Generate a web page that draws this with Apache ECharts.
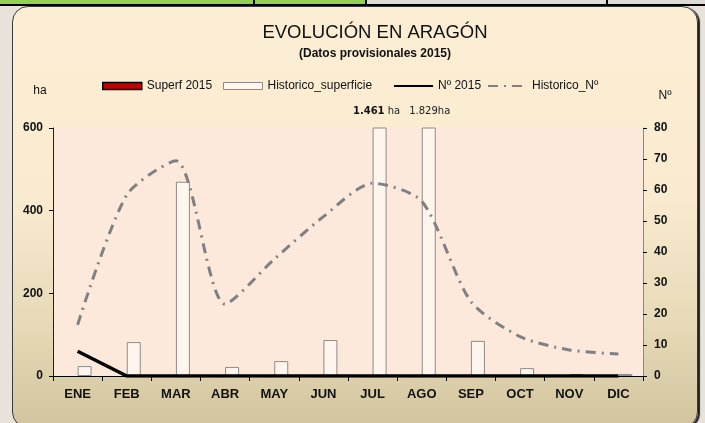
<!DOCTYPE html>
<html><head><meta charset="utf-8">
<script src="https://cdn.jsdelivr.net/npm/echarts@6/dist/echarts.min.js"></script>
<style>
html,body{margin:0;padding:0;width:705px;height:423px;overflow:hidden;background:#E8E2DA;}
.abs{position:absolute;}
#green{left:0;top:0;width:366px;height:4px;background:#92D050;}
#gray{left:366px;top:0;width:339px;height:4px;background:#DEDAD6;}
#hline{left:0;top:4px;width:705px;height:2px;background:#000;}
.v{top:0;width:2px;height:5px;background:#000;}
#panel{left:12px;top:6px;width:684px;height:420px;border-radius:16px;border:1.5px solid #3a3a3a;
 background:linear-gradient(to bottom,#FCEED4 0%,#FAEBD0 45%,#E6DAB8 75%,#D2C49E 100%);
 box-shadow:2px 1px 1px #222;}
#chart{left:0;top:0;width:705px;height:423px;}
</style></head>
<body>
<div class="abs" id="green"></div><div class="abs" id="gray"></div><div class="abs" id="hline"></div>
<div class="abs v" style="left:253px"></div><div class="abs v" style="left:365px"></div><div class="abs v" style="left:606px"></div>
<div class="abs" id="panel"></div>
<div class="abs" id="chart"></div>
<script>
const categories = ['ENE','FEB','MAR','ABR','MAY','JUN','JUL','AGO','SEP','OCT','NOV','DIC'];
const superf2015 = [0,0,0,0,0,0,0,0,0,0,0,0];
const historicoSuperficie = [24,82,470,22,36,87,1461,1829,85,19,5,5];
const n2015 = [8,0,0,0,0,0,0,0,0,0,0,0];
const historicoN = [16.5,58.4,69.4,23.2,37.7,51.4,62.2,56.4,24,12.7,8.4,7.1];
const leftAxisTicks = {min:0, max:600, interval:200};
const rightAxisTicks = {min:0, max:80, interval:10};
const seriesNames = ['Superf 2015','Historico_superficie','Nº 2015','Historico_Nº'];
const overflowLabels = [{cat:'JUL', num:'1.461', unit:' ha', bold:true},{cat:'AGO', num:'1.829', unit:'ha', bold:false}];

const FONT = 'Liberation Sans, Arial, sans-serif';
const legendLefts = [97,218,388,482];
const hidden = {color:'rgba(0,0,0,0)',borderColor:'rgba(0,0,0,0)',borderWidth:0};
const legendItems = [
  {name:seriesNames[0], icon:'rect', itemStyle:{color:'#C00000',borderColor:'#000',borderWidth:1.5}},
  {name:seriesNames[1], icon:'rect', itemStyle:{color:'#FEF6EE',borderColor:'#8F8A85',borderWidth:1}},
  {name:seriesNames[2], itemStyle:hidden},
  {name:seriesNames[3], itemStyle:hidden}
];

const chart = echarts.init(document.getElementById('chart'), null, {renderer:'canvas'});
chart.setOption({
  backgroundColor:'transparent',
  animation:false,
  title:{
    text:'EVOLUCIÓN EN ARAGÓN',
    subtext:'(Datos provisionales 2015)',
    left:370, textAlign:'center', top:18, itemGap:6,
    textStyle:{fontFamily:FONT,fontSize:18.5,fontWeight:'normal',color:'#111'},
    subtextStyle:{fontFamily:FONT,fontSize:12,fontWeight:'bold',color:'#111'}
  },
  legend: legendItems.map((it,i)=>({
    left:legendLefts[i], top:75, itemWidth:39, itemHeight:7, itemGap:8,
    textStyle:{fontFamily:FONT,fontSize:12,color:'#111'},
    data:[it]
  })),
  grid:{left:53,right:62,top:128,bottom:47,show:true,backgroundColor:'#FCE9DB',borderWidth:0},
  xAxis:{
    type:'category', data:categories,
    axisLine:{lineStyle:{color:'#000',width:1}},
    axisTick:{show:true,length:5,lineStyle:{color:'#000'}},
    axisLabel:{fontFamily:FONT,fontSize:13,fontWeight:'bold',color:'#111',margin:12}
  },
  yAxis:[
    {type:'value', min:leftAxisTicks.min, max:leftAxisTicks.max, interval:leftAxisTicks.interval,
     name:'ha', nameLocation:'end', nameGap:31,
     nameTextStyle:{fontFamily:FONT,fontSize:12,color:'#111',align:'center',padding:[0,26,0,0]},
     axisLine:{show:true,lineStyle:{color:'#222',width:1}},
     axisTick:{show:true,length:4,lineStyle:{color:'#000'}},
     splitLine:{show:false},
     axisLabel:{fontFamily:FONT,fontSize:12,fontWeight:'bold',color:'#111',margin:10}},
    {type:'value', min:rightAxisTicks.min, max:rightAxisTicks.max, interval:rightAxisTicks.interval,
     position:'right',
     name:'Nº', nameLocation:'end', nameGap:26,
     nameTextStyle:{fontFamily:FONT,fontSize:12,color:'#111',align:'center',padding:[0,0,0,44]},
     axisLine:{show:true,lineStyle:{color:'#888',width:1}},
     axisTick:{show:true,length:4,lineStyle:{color:'#000'}},
     splitLine:{show:false},
     axisLabel:{fontFamily:FONT,fontSize:12,fontWeight:'bold',color:'#111',margin:11}}
  ],
  series:[
    {name:seriesNames[0], type:'bar', yAxisIndex:0, data:superf2015, barWidth:14, barGap:'0%',
     itemStyle:{color:'#C00000',borderColor:'#000',borderWidth:0}},
    {name:seriesNames[1], type:'bar', yAxisIndex:0, data:historicoSuperficie, barWidth:14, barGap:'0%',
     itemStyle:{color:'#FEF6EE',borderColor:'#8F8A85',borderWidth:1},
     markPoint:{
       symbol:'rect', symbolSize:0,
       data:overflowLabels.map((o,i)=>({coord:[o.cat, leftAxisTicks.max], value:o.num,
         label:{show:true, position:'inside', offset:[i===0?-3:1,-17],
           formatter:()=> (o.bold?'{b|':'{n|')+o.num+'}{u|'+o.unit+'}',
           rich:{b:{fontFamily:'DejaVu Sans',fontSize:10,fontWeight:'bold',color:'#111'},
                 n:{fontFamily:'DejaVu Sans',fontSize:10,color:'#222'},
                 u:{fontFamily:'DejaVu Sans',fontSize:10,color:'#222'}}}}))
     }},
    {name:seriesNames[2], type:'line', yAxisIndex:1, data:n2015, symbol:'none',
     lineStyle:{color:'#000',width:3.5}, itemStyle:{color:'#000'}, z:4},
    {name:seriesNames[3], type:'line', yAxisIndex:1, data:historicoN, symbol:'none', smooth:0.25,
     lineStyle:{color:'#808080',width:3,type:[10,6,2,6],cap:'butt'}, itemStyle:{color:'#808080'}, z:3}
  ]
});
</script>
</body></html>
